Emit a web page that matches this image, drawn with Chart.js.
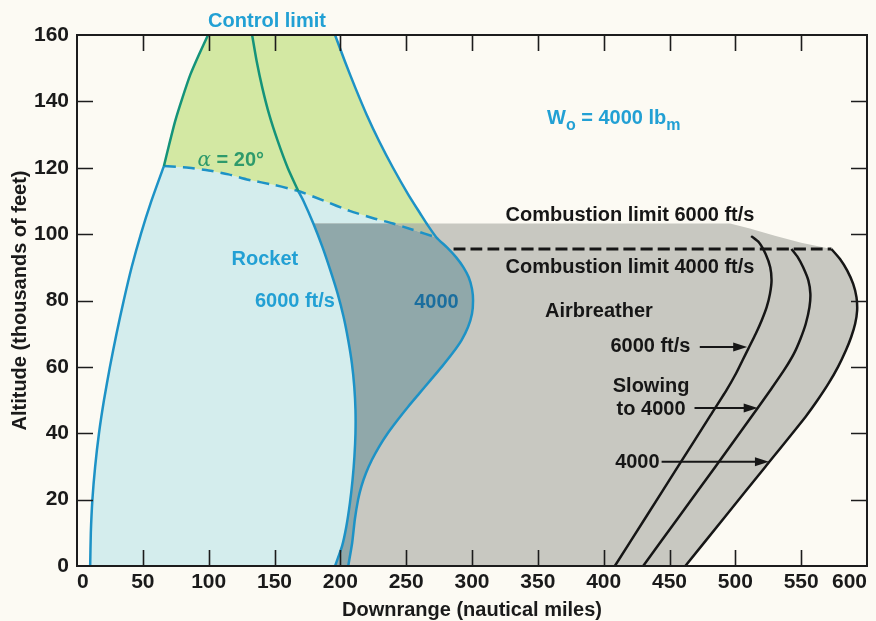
<!DOCTYPE html>
<html>
<head>
<meta charset="utf-8">
<script src="https://cdn.jsdelivr.net/npm/chart.js@4.4.1/dist/chart.umd.min.js"></script>
<style>
  html, body { margin: 0; padding: 0; background: #fcfaf3; }
  #wrap { width: 876px; height: 621px; }
</style>
</head>
<body>
<div id="wrap"><canvas id="c" width="876" height="621"></canvas></div>
<script>
// Axis ticks
const xTickValues = [0, 50, 100, 150, 200, 250, 300, 350, 400, 450, 500, 550, 600];
const yTickValues = [0, 20, 40, 60, 80, 100, 120, 140, 160];

// Boundary curves: [downrange (n mi), altitude (thousands of ft)]
const rocketLeft = [[10,0],[10.5,10],[11.7,20],[13.8,30],[16.7,40],[20.5,50],[25,60],[30,70],[35.5,80],[41.5,90],[48.5,100],[56.5,110],[66,120.5]];
const controlLeft = [[66,120.5],[70,127],[74.5,134],[80,141],[86,148],[92.5,154],[99.5,160]];
const alphaLeft = [[66,120.5],[85,120],[100,119.2],[115,118],[130,116.4],[150,114.8],[168,113],[188,110],[207,107],[225,104.8],[240,103.2]];
const alphaRight = [[240,103.2],[255,101.3],[273,99]];
const rocket6000Upper = [[133,160],[136.5,152],[140.8,144],[146,136],[152.5,128],[160,120],[168,113]];
const rocket6000Mid = [[168,113],[172,110],[179.5,103.2]];
const rocket6000Lower = [[179.5,103.2],[186.5,96],[192.5,89],[198,82],[202.5,75],[206,68],[208.8,61],[210.6,54],[211.5,47],[211.5,40],[210.7,33],[209.3,26],[207.3,19],[204.6,12],[201.3,6],[196,0]];
const rocket4000Top = [[196,160],[203.5,152],[211.5,144],[220,136],[229.5,128],[240,120],[251.5,112],[261,106],[265.5,103.2]];
const rocket4000Neck = [[265.5,103.2],[273,99]];
const rocket4000Lower = [[273,99],[281,96],[288,93],[293.5,90],[297.5,87],[300,83.5],[300.8,80],[300,76],[297,72],[292,68],[285,64],[277,60],[268.5,56],[260,52],[251.5,48],[243.5,44],[236,40],[229.5,36],[224,32],[219.5,28],[216,24],[213.5,20],[211,14],[209,7],[206,0]];
const combustion6000 = [[179.5,103.2],[496,103.2],[511,101.7],[530,99.5],[550,97.4],[573,95.5]];
const combustion4000 = [[286,95.5],[573,95.5]];
const air6000 = [[408.5,0],[432.5,15],[456.5,30],[480.5,45],[493.3,53],[500.5,58],[505.5,62],[510.5,66],[515.5,70],[520,74],[523.8,78],[526.3,82],[527.5,86],[526.5,90],[523,94],[518,97.5],[512,99.4]];
const airSlowing = [[430,0],[457.5,15],[485,30],[517,47.6],[527.5,53.5],[537,59],[544.5,64],[549.5,68.5],[553.5,73],[556.3,78],[557,82],[555.5,86],[551.5,90],[547.5,93],[542.6,95.5]];
const air4000 = [[573,95.5],[579.5,92.5],[585,89],[589.5,85],[592,81],[592.5,77],[591,73],[588,69],[584,65],[578,60],[570.8,55],[562.5,50],[553.4,45],[523,30],[492.5,15],[462,0]];

const C = {
  bg: '#fcfaf3', cyan: '#d4eded', green: '#d3e8a3', grey: '#c8c8c1',
  dark: '#90a8aa', greenGrey: '#b3bea3',
  blueLine: '#1d92c6', greenLine: '#14937a', ink: '#161616',
  labelBlue: '#22a0d4', labelDark: '#1b6e9e', alpha: '#2e9a6b'
};

const rev = a => a.slice().reverse();
const pts = a => a.map(([x, y]) => ({ x, y }));

// Closed outlines of the shaded regions
const cyanShape = [...rocketLeft, ...alphaLeft, ...alphaRight, ...rocket4000Lower, [10,0]];
const greenShape = [...controlLeft, ...rocket4000Top, ...rocket4000Neck, ...rev(alphaRight), ...rev(alphaLeft)];
const greyShape = [...combustion6000, ...air4000, ...rev(rocket6000Lower)];
const darkShape = [...rocket6000Lower, ...rev(rocket4000Lower), ...rev(alphaRight)];
const greenGreyShape = [...alphaRight, ...rev(rocket4000Neck)];

function region(shape, color, order) {
  return { data: pts(shape), showLine: true, fill: 'shape', backgroundColor: color,
           borderColor: 'rgba(0,0,0,0)', borderWidth: 0, pointRadius: 0, tension: 0, order };
}
function curve(line, color, width, dash) {
  return { data: pts(line), showLine: true, fill: false, borderColor: color, borderWidth: width,
           borderDash: dash || [], pointRadius: 0, tension: 0.2, order: 1, borderCapStyle: 'butt' };
}

const datasets = [
  region(cyanShape, C.cyan, 20),
  region(greenShape, C.green, 19),
  region(greyShape, C.grey, 18),
  region(darkShape, C.dark, 17),
  region(greenGreyShape, C.greenGrey, 16),
  curve(rocketLeft, C.blueLine, 2.5),
  curve(controlLeft, C.greenLine, 2.5),
  curve(rocket6000Upper, C.greenLine, 2.5),
  curve([...rocket6000Mid, ...rocket6000Lower.slice(1)], C.blueLine, 2.5),
  curve([...rocket4000Top, ...rocket4000Neck.slice(1), ...rocket4000Lower.slice(1)], C.blueLine, 2.5),
  curve([...alphaLeft, ...alphaRight.slice(1)], C.blueLine, 2.5, [12, 7]),
  curve(combustion4000, C.ink, 3, [12, 5]),
  curve(air6000, C.ink, 2.5),
  curve(airSlowing, C.ink, 2.5),
  curve(air4000, C.ink, 2.5)
];

const FONT = '"Liberation Sans", Arial, sans-serif';

// Text labels placed in data units
const notes = [
  { text: 'Control limit', x: 144.3, y: 164.2, color: C.labelBlue },
  { text: 'Rocket', x: 142.7, y: 92.5, color: C.labelBlue },
  { text: '6000 ft/s', x: 165.5, y: 79.8, color: C.labelBlue },
  { text: '4000', x: 273, y: 79.5, color: C.labelDark },
  { text: 'Combustion limit 6000 ft/s', x: 420, y: 105.7, color: C.ink },
  { text: 'Combustion limit 4000 ft/s', x: 420, y: 90, color: C.ink },
  { text: 'Airbreather', x: 396.4, y: 76.8, color: C.ink },
  { text: '6000 ft/s', x: 435.5, y: 66, color: C.ink },
  { text: 'Slowing', x: 436, y: 54.2, color: C.ink },
  { text: 'to 4000', x: 436, y: 47.3, color: C.ink },
  { text: '4000', x: 425.6, y: 31.3, color: C.ink }
];
const arrows = [
  { from: [473, 66], to: [509, 66] },
  { from: [469, 47.6], to: [517, 47.6] },
  { from: [444, 31.4], to: [525.5, 31.4] }
];

function richText(ctx, x, y, parts, color) {
  ctx.fillStyle = color;
  ctx.textAlign = 'left';
  ctx.textBaseline = 'alphabetic';
  let cx = x;
  for (const p of parts) {
    ctx.font = p.font;
    ctx.fillText(p.t, cx, y + (p.dy || 0));
    cx += ctx.measureText(p.t).width;
  }
}

const decor = {
  id: 'decor',
  beforeDraw(chart) {
    const ctx = chart.ctx;
    ctx.save();
    ctx.fillStyle = C.bg;
    ctx.fillRect(0, 0, chart.width, chart.height);
    ctx.restore();
  },
  afterDatasetsDraw(chart) {
    const { ctx, chartArea: a, scales: { x, y } } = chart;
    ctx.save();
    // frame and inward tick marks
    ctx.strokeStyle = '#1c1c1c';
    ctx.lineWidth = 2;
    ctx.strokeRect(a.left, a.top, a.right - a.left, a.bottom - a.top);
    ctx.lineWidth = 1.6;
    ctx.beginPath();
    for (const v of xTickValues.slice(1, -1)) {
      const px = Math.round(x.getPixelForValue(v)) + 0.5;
      ctx.moveTo(px, a.bottom); ctx.lineTo(px, a.bottom - 16);
      ctx.moveTo(px, a.top); ctx.lineTo(px, a.top + 16);
    }
    for (const v of yTickValues.slice(1, -1)) {
      const py = Math.round(y.getPixelForValue(v)) + 0.5;
      ctx.moveTo(a.left, py); ctx.lineTo(a.left + 16, py);
      ctx.moveTo(a.right, py); ctx.lineTo(a.right - 16, py);
    }
    ctx.stroke();

    // labels
    ctx.textAlign = 'center';
    ctx.textBaseline = 'middle';
    ctx.font = 'bold 20px ' + FONT;
    for (const n of notes) {
      ctx.fillStyle = n.color;
      ctx.fillText(n.text, x.getPixelForValue(n.x), y.getPixelForValue(n.y));
    }

    // alpha label
    const aw = 'bold 20px ' + FONT;
    richText(ctx, x.getPixelForValue(91.5), y.getPixelForValue(120.6),
      [{ t: 'α', font: 'italic 20px "DejaVu Serif", serif' }, { t: ' = 20°', font: aw }], C.alpha);

    // initial weight label
    const big = 'bold 20px ' + FONT, sub = 'bold 16px ' + FONT;
    richText(ctx, x.getPixelForValue(357), y.getPixelForValue(133.3),
      [{ t: 'W', font: big }, { t: 'o', font: sub, dy: 6 }, { t: ' = 4000 lb', font: big }, { t: 'm', font: sub, dy: 6 }],
      C.labelBlue);

    // arrows
    ctx.strokeStyle = C.ink;
    ctx.fillStyle = C.ink;
    ctx.lineWidth = 2;
    for (const ar of arrows) {
      const x0 = x.getPixelForValue(ar.from[0]), y0 = y.getPixelForValue(ar.from[1]);
      const x1 = x.getPixelForValue(ar.to[0]), y1 = y.getPixelForValue(ar.to[1]);
      ctx.beginPath();
      ctx.moveTo(x0, y0); ctx.lineTo(x1 - 10, y1);
      ctx.stroke();
      ctx.beginPath();
      ctx.moveTo(x1, y1); ctx.lineTo(x1 - 14, y1 - 4.5); ctx.lineTo(x1 - 14, y1 + 4.5);
      ctx.closePath();
      ctx.fill();
    }
    ctx.restore();
  }
};

new Chart(document.getElementById('c'), {
  type: 'scatter',
  data: { datasets },
  options: {
    responsive: false,
    devicePixelRatio: 1,
    animation: false,
    events: [],
    layout: { padding: { left: 0, top: 35, right: 9, bottom: 0 } },
    plugins: { legend: { display: false }, tooltip: { enabled: false } },
    scales: {
      x: {
        type: 'linear', min: 0, max: 600,
        afterBuildTicks: s => { s.ticks = xTickValues.map(v => ({ value: v })); },
        afterFit: s => { s.height = 55; s.paddingLeft = 0; s.paddingRight = 0; },
        ticks: { font: { family: FONT, size: 21, weight: 'bold' }, color: '#1a1a1a', padding: 4,
                 maxRotation: 0, autoSkip: false, align: 'inner' },
        grid: { display: false, drawTicks: false },
        border: { display: false },
        title: { display: true, text: 'Downrange (nautical miles)', color: '#1a1a1a',
                 font: { family: FONT, size: 20, weight: 'bold', lineHeight: 1.1 }, padding: 0 }
      },
      y: {
        type: 'linear', min: 0, max: 160,
        afterBuildTicks: s => { s.ticks = yTickValues.map(v => ({ value: v })); },
        afterFit: s => { s.width = 77; },
        ticks: { font: { family: FONT, size: 21, weight: 'bold' }, color: '#1a1a1a', padding: 8 },
        grid: { display: false, drawTicks: false },
        border: { display: false },
        title: { display: true, text: 'Altitude (thousands of feet)', color: '#1a1a1a',
                 font: { family: FONT, size: 20, weight: 'bold', lineHeight: 1.2 }, padding: { top: 8, bottom: 0 } }
      }
    }
  },
  plugins: [decor]
});
</script>
</body>
</html>
